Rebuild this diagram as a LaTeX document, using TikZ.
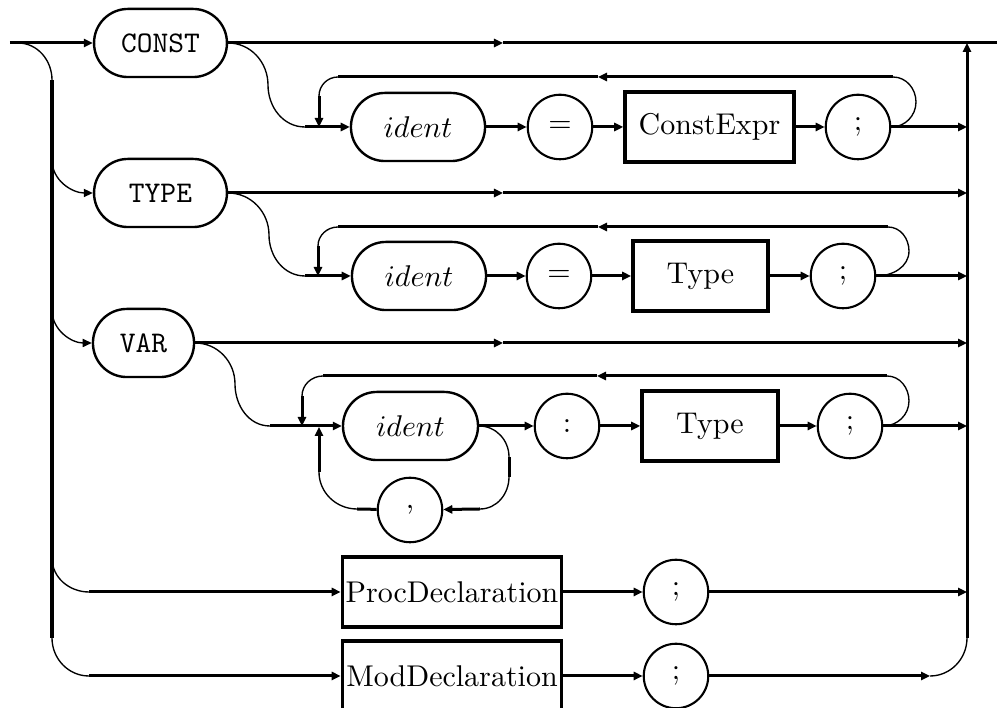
\documentclass[tikz,border=0pt]{standalone}
\usetikzlibrary{arrows.meta}
\tikzset{
  track/.style={line width=1pt},
  arcline/.style={line width=0.45pt},
  oval/.style={draw, line width=0.8pt, rounded corners=11.3pt, minimum height=22.7pt, inner sep=0pt},
  term/.style={draw, circle, line width=0.7pt, minimum size=21.5pt, inner sep=0pt},
  nonterm/.style={draw, line width=1.2pt, minimum height=23.2pt, inner sep=0pt},
}
\begin{document}
\begin{tikzpicture}[x=0.3333pt,y=0.3333pt,>={Triangle[length=3pt,width=2.7pt]}]
\useasboundingbox (0,0) rectangle (997,-708);

\node[oval, minimum width=44.3pt] (const) at (160.5,-43) {\texttt{CONST}};
\node[oval, minimum width=44.7pt] (cid) at (418,-127) {$ident$};
\node[term] (ceq) at (560,-127) {$=$};
\node[nonterm, minimum width=56.3pt] (cexpr) at (709.5,-127) {ConstExpr};
\node[term] (csemi) at (858,-127) {;};

\node[oval, minimum width=44.3pt] (type) at (160.5,-193) {\texttt{TYPE}};
\node[oval, minimum width=44.7pt] (tid) at (419,-276) {$ident$};
\node[term] (teq) at (559,-276) {$=$};
\node[nonterm, minimum width=45pt] (ttype) at (700.5,-276) {Type};
\node[term] (tsemi) at (843,-276) {;};

\node[oval, minimum width=33.7pt] (var) at (143.5,-343) {\texttt{VAR}};
\node[oval, minimum width=45pt] (vid) at (410.5,-426) {$ident$};
\node[term] (vcolon) at (567,-426) {:};
\node[nonterm, minimum width=45.3pt] (vtype) at (710,-426) {Type};
\node[term] (vsemi) at (850,-426) {;};
\node[term] (vcomma) at (410,-510) {,};

\node[nonterm, minimum width=73pt] (proc) at (452,-592) {ProcDeclaration};
\node[term] (psemi) at (676,-592) {;};
\node[nonterm, minimum width=73pt] (mod) at (452,-676) {ModDeclaration};
\node[term] (msemi) at (676,-676) {;};

\coordinate (start) at (10,-43);
\coordinate (ltop) at (52,-80);
\coordinate (lbot) at (52,-638);
\coordinate (rtop) at (967,-43);
\coordinate (rbot) at (967,-638);
\coordinate (stop) at (997,-43);

% main line and the left rail
\draw[track,->] (start) -- (const);
\draw[arcline] (18,-43) to[out=0,in=90] (ltop);
\draw[track] (ltop) -- (lbot);
\draw[arcline,->] (52,-160) to[out=-90,in=180] (type.west);
\draw[arcline,->] (52,-310) to[out=-90,in=180] (var.west);
\draw[arcline] (52,-558) to[out=-90,in=180] (89,-592);
\draw[track,->] (89,-592) -- (proc);
\draw[arcline] (lbot) to[out=-90,in=180] (89,-676);
\draw[track,->] (89,-676) -- (mod);

% CONST
\draw[track,->] (const) -- (503,-43);
\draw[track] (503,-43) -- (stop);
\draw[arcline] (const.east) to[out=0,in=90] (268,-85) to[out=-90,in=180] (305,-127);
\draw[track,->] (305,-127) -- (cid);
\draw[track,->] (cid) -- (ceq);
\draw[track,->] (ceq) -- (cexpr);
\draw[track,->] (cexpr) -- (csemi);
\draw[track,->] (csemi) -- (967,-127);
\draw[arcline] (csemi.east) to[out=0,in=-90] (916,-102) to[out=90,in=0] (893,-77);
\draw[track,->] (893,-77) -- (598,-77);
\draw[track] (598,-77) -- (338,-77);
\draw[arcline] (338,-77) to[out=180,in=90] (319,-96);
\draw[track,->] (319,-96) -- (319,-127);

% TYPE
\draw[track,->] (type) -- (503,-193);
\draw[track,->] (503,-193) -- (967,-193);
\draw[arcline] (type.east) to[out=0,in=90] (269,-235) to[out=-90,in=180] (305,-276);
\draw[track,->] (305,-276) -- (tid);
\draw[track,->] (tid) -- (teq);
\draw[track,->] (teq) -- (ttype);
\draw[track,->] (ttype) -- (tsemi);
\draw[track,->] (tsemi) -- (967,-276);
\draw[arcline] (tsemi.east) to[out=0,in=-90] (909,-251) to[out=90,in=0] (888,-227);
\draw[track,->] (888,-227) -- (598,-227);
\draw[track] (598,-227) -- (338,-227);
\draw[arcline] (338,-227) to[out=180,in=90] (318,-246);
\draw[track,->] (318,-246) -- (318,-276);

% VAR
\draw[track,->] (var) -- (503,-343);
\draw[track,->] (503,-343) -- (967,-343);
\draw[arcline] (var.east) to[out=0,in=90] (235,-384) to[out=-90,in=180] (270,-426);
\draw[track,->] (270,-426) -- (vid);
\draw[track,->] (vid) -- (vcolon);
\draw[track,->] (vcolon) -- (vtype);
\draw[track,->] (vtype) -- (vsemi);
\draw[track,->] (vsemi) -- (967,-426);
\draw[arcline] (vsemi.east) to[out=0,in=-90] (909,-401) to[out=90,in=0] (887,-376);
\draw[track,->] (887,-376) -- (597,-376);
\draw[track] (597,-376) -- (323,-376);
\draw[arcline] (323,-376) to[out=180,in=90] (302,-396);
\draw[track,->] (302,-396) -- (302,-426);
\draw[arcline] (vid.east) to[out=0,in=90] (509,-457);
\draw[track] (509,-457) -- (509,-477);
\draw[arcline] (509,-477) to[out=-90,in=0] (480,-509);
\draw[track,->] (480,-509) -- (vcomma);
\draw[track] (vcomma) -- (357,-509);
\draw[arcline] (357,-509) to[out=180,in=-90] (319,-472);
\draw[track,->] (319,-472) -- (319,-427);

% declarations
\draw[track,->] (proc) -- (psemi);
\draw[track,->] (psemi) -- (967,-592);
\draw[track,->] (mod) -- (msemi);
\draw[track,->] (msemi) -- (930,-676);
\draw[arcline] (930,-676) to[out=0,in=-90] (rbot);
\draw[track,->] (rbot) -- (rtop);
\end{tikzpicture}
\end{document}
